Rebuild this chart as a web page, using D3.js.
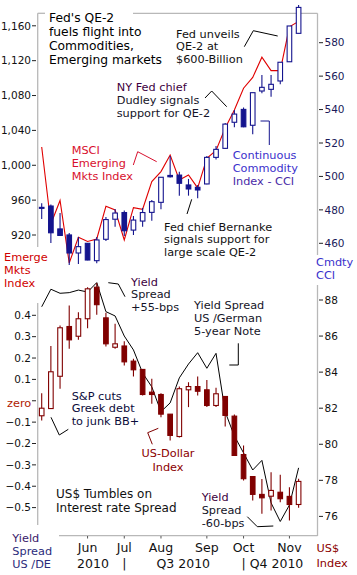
<!DOCTYPE html>
<html><head><meta charset="utf-8">
<script src="https://cdn.jsdelivr.net/npm/d3@7"></script>
<style>
body{margin:0;background:#fff}
svg{display:block}
text{font-family:"DejaVu Sans",Verdana,sans-serif}
</style>
</head><body>
<svg id="chart" width="357" height="575"></svg>
<script>
// ---------- DATA ----------
const weeks = ["2010-04-26","2010-05-03","2010-05-10","2010-05-17","2010-05-24","2010-05-31","2010-06-07","2010-06-14","2010-06-21","2010-06-28","2010-07-05","2010-07-12","2010-07-19","2010-07-26","2010-08-02","2010-08-09","2010-08-16","2010-08-23","2010-08-30","2010-09-06","2010-09-13","2010-09-20","2010-09-27","2010-10-04","2010-10-11","2010-10-18","2010-10-25","2010-11-01","2010-11-08"];

// Continuous Commodity Index (weekly OHLC)
const cciOpen  = [481.5,482.3,468.6,465.0,454.2,460.0,449.6,462.4,474.4,478.4,467.9,473.3,478.5,484.5,500.6,500.8,494.9,493.5,495.5,511.4,516.8,532.4,540.1,530.6,551.1,552.1,557.1,568.6,585.6];
const cciHigh  = [483.9,483.2,478.1,466.2,463.8,460.2,463.8,475.7,480.5,479.6,476.3,481.1,485.9,499.5,512.2,502.8,498.5,494.9,512.2,518.2,532.0,539.7,541.3,550.1,560.7,560.7,568.3,590.0,602.5];
const cciLow   = [474.5,460.2,464.5,447.0,447.6,449.8,448.1,461.4,469.9,464.4,465.0,469.9,473.5,480.3,499.4,488.5,488.5,486.9,495.3,510.2,516.4,529.4,529.4,525.2,549.7,547.7,555.1,568.6,585.6];
const cciClose = [481.3,466.3,464.7,454.2,458.0,450.0,462.0,474.2,478.1,467.5,473.9,478.4,484.9,499.5,499.8,495.9,492.5,491.9,511.4,516.2,531.3,537.3,529.7,550.1,553.3,555.1,568.3,590.0,601.1];

// MSCI Emerging Markets Index (weekly close)
const msci = [1021.0,932.6,959.6,887.9,917.4,912.5,915.4,953.0,948.7,914.3,951.3,949.5,981.2,992.7,1011.8,983.1,988.9,974.0,1008.1,1017.0,1042.8,1063.5,1088.4,1100.8,1124.0,1108.6,1108.6,1158.8,1165.1];

// US Dollar Index (weekly OHLC)
const dxyOpen  = [81.58,81.98,83.77,86.53,85.99,86.96,88.71,87.01,85.38,85.45,84.61,84.15,82.89,82.76,81.67,80.43,83.02,83.20,83.02,82.15,82.65,81.56,79.43,78.21,77.22,77.12,77.34,77.11,76.66];
const dxyHigh  = [82.83,85.45,86.58,87.69,87.32,88.71,88.94,87.29,86.68,85.71,84.74,84.18,83.63,82.83,81.67,83.20,83.44,83.76,83.57,83.13,82.65,81.65,79.93,78.21,78.07,78.45,78.31,77.62,78.09];
const dxyLow   = [81.32,81.98,83.08,85.29,85.79,86.43,87.18,85.42,85.29,84.37,83.76,82.70,82.24,81.50,80.21,80.38,82.06,82.70,82.06,82.06,80.99,79.38,77.99,76.88,76.15,76.33,76.79,75.77,76.48];
const dxyClose = [82.00,84.02,86.46,85.79,86.96,88.62,87.74,85.57,85.57,84.57,84.13,82.76,82.76,81.67,80.49,83.08,83.20,82.94,82.15,82.80,81.60,79.38,78.09,77.22,77.03,77.44,76.98,76.66,77.94];

// Yield spread US / German 5-year note (percentage points)
const spread = [0.440,0.522,0.503,0.506,0.518,0.509,0.553,0.417,0.397,0.303,0.238,0.130,0.065,-0.051,-0.010,0.107,0.172,0.225,0.152,0.222,-0.052,-0.165,-0.244,-0.324,-0.279,-0.478,-0.565,-0.488,-0.314];

// Tick labels
const msciTicks = [920,960,1000,1040,1080,1120,1160];
const cciTicks = [460,480,500,520,540,560,580];
const spreadTicks = [-0.5,-0.4,-0.3,-0.2,-0.1,0,0.1,0.2,0.3,0.4];
const dxyTicks = [76,78,80,82,84,86,88];
const monthTicks = [["Jun","2010-06-01"],["Jul","2010-07-01"],["Aug","2010-08-01"],["Sep","2010-09-01"],["Oct","2010-10-01"],["Nov","2010-11-01"]];

// ---------- CHART ----------
const svg = d3.select("#chart");
const AX = "#b8b8b8";
const BLUE = "#14148e", MAROON = "#800000";

const x = d3.scalePoint().domain(weeks).range([41.7, 298.6]);
const yCCI = d3.scaleLinear().domain([460,580]).range([243.3,42.7]);
const yMSCI = d3.scaleLinear().domain([920,1160]).range([235,25.8]);
const yDXY = d3.scaleLinear().domain([76,88]).range([516.4,300.0]);
const ySpr = d3.scaleLinear().domain([-0.5,0.4]).range([507.6,315.3]);

const parse = d3.timeParse("%Y-%m-%d");
function weekOf(dateStr){
  const d = parse(dateStr);
  for (const w of weeks){ const s = parse(w); if (d >= s && d < d3.timeDay.offset(s,7)) return w; }
  return weeks[0];
}

// frames
const g = svg.append("g");
function line(x1,y1,x2,y2,c,w){ g.append("line").attr("x1",x1).attr("y1",y1).attr("x2",x2).attr("y2",y2).attr("stroke",c).attr("stroke-width",w||1); }
line(37.7,13.3,37.7,247,AX,1.3);
line(37.7,13.3,45,13.3,AX,1.3);
line(133,13.3,317.5,13.3,AX,1.3);
line(317.5,13.3,317.5,255,AX,1.3);
line(37.7,303,37.7,525,AX,1.3);
line(317.5,285,317.5,536,AX,1.3);
line(59,535.7,317.5,535.7,AX,1.3);

// axis ticks & labels
function leftTicks(ticks, scale, fmt){
  ticks.forEach(t=>{
    const yy = scale(t);
    line(32,yy,36,yy,"#222",1);
    const lab = fmt(t);
    if (lab) g.append("text").attr("x",31).attr("y",yy).attr("dy","0.36em").attr("text-anchor","end")
      .attr("font-size",10.5).attr("fill","#111").text(lab);
  });
}
function rightTicks(ticks, scale, color){
  ticks.forEach(t=>{
    const yy = scale(t);
    line(319,yy,323,yy,"#222",1);
    g.append("text").attr("x",324.5).attr("y",yy).attr("dy","0.36em")
      .attr("font-size",10.5).attr("fill",color).text(t);
  });
}
leftTicks(msciTicks, yMSCI, d3.format(","));
rightTicks(cciTicks, yCCI, "#1a1a5a");
leftTicks(spreadTicks, ySpr, t => t===0 ? "" : d3.format(".1f")(t));
rightTicks(dxyTicks, yDXY, "#111");

// x axis month ticks
monthTicks.forEach(([lab,ds])=>{
  const xx = x(weekOf(ds));
  line(xx,536,xx,538.5,"#555",1);
  g.append("text").attr("x",xx).attr("y",547.5).attr("dy","0.36em").attr("text-anchor","middle")
    .attr("font-size",12.5).attr("fill","#111").text(lab);
});
const mx = Object.fromEntries(monthTicks.map(([l,d])=>[l,x(weekOf(d))]));
const qrow = [["2010",mx.Jun-10.5,"start"],["|",mx.Jul,"middle"],["Q3 2010",mx.Aug-4.5,"start"],["| Q4 2010",mx.Oct-2,"start"]];
qrow.forEach(([t,xx,a])=>{
  g.append("text").attr("x",xx).attr("y",563.5).attr("dy","0.36em").attr("text-anchor",a)
   .attr("font-size",12.5).attr("fill","#111").text(t);
});

// candles
function candles(O,H,L,C,ys,color){
  const cg = svg.append("g");
  weeks.forEach((w,i)=>{
    const xx = x(w);
    cg.append("line").attr("x1",xx).attr("x2",xx).attr("y1",ys(H[i])).attr("y2",ys(L[i]))
      .attr("stroke",color).attr("stroke-width",1.1);
    const up = C[i] > O[i];
    const top = ys(Math.max(O[i],C[i])), bot = ys(Math.min(O[i],C[i]));
    cg.append("rect").attr("x",xx-2.3).attr("y",top).attr("width",4.6).attr("height",Math.max(1,bot-top))
      .attr("fill", up ? "#fff" : color).attr("stroke",color).attr("stroke-width",1.1);
  });
}

// MSCI red line
svg.append("path").datum(msci)
  .attr("d", d3.line().x((d,i)=>x(weeks[i])).y(d=>yMSCI(d)))
  .attr("fill","none").attr("stroke","#e00000").attr("stroke-width",1.1);
candles(cciOpen,cciHigh,cciLow,cciClose,yCCI,BLUE);

// spread black line
svg.append("path").datum(spread)
  .attr("d", d3.line().x((d,i)=>x(weeks[i])).y(d=>ySpr(d)))
  .attr("fill","none").attr("stroke","#000").attr("stroke-width",1);
candles(dxyOpen,dxyHigh,dxyLow,dxyClose,yDXY,MAROON);

// annotations
const notes = [
  {l:["Fed's QE-2","fuels flight into","Commodities,","Emerging markets"],x:49,y:18,lh:13.9,fs:12.3,c:["#000"]},
  {l:["Fed unveils","QE-2 at","$600-Billion"],x:176,y:33.5,lh:12.9,c:["#111"]},
  {l:["NY Fed chief","Dudley signals","support for QE-2"],x:116.7,y:87.3,lh:13,c:["#3d0040","#141428","#141428"]},
  {l:["MSCI","Emerging","Mkts Index"],x:71.7,y:150,lh:12.9,c:["#d8102e"]},
  {l:["Continuous","Commodity","Index - CCI"],x:232.7,y:155,lh:12.9,c:["#3a30cc","#3a30cc","#4a2aa8"]},
  {l:["Fed chief Bernanke","signals support for","large scale QE-2"],x:164,y:226.7,lh:12.5,c:["#111"]},
  {l:["Emerge","Mkts","Index"],x:4,y:256.7,lh:13,c:["#d00000"]},
  {l:["Cmdty","CCI"],x:316,y:262.3,lh:12.5,c:["#3a30cc"]},
  {l:["Yield","Spread","+55-bps"],x:131,y:281.7,lh:12.5,c:["#3d0040","#141428","#141428"]},
  {l:["Yield Spread","US /German","5-year Note"],x:194,y:305,lh:13,c:["#141428"]},
  {l:["S&P cuts","Greek debt","to junk BB+"],x:71.7,y:395.7,lh:12.5,c:["#0b0b3b"]},
  {l:["US-Dollar","Index"],x:168,y:453.3,lh:14,c:["#8b0000"],a:"middle"},
  {l:["Yield","Spread","-60-bps"],x:201.7,y:496.7,lh:13,c:["#3d0040","#141428","#141428"]},
  {l:["US$ Tumbles on","Interest rate Spread"],x:56,y:493.3,lh:14.4,fs:12,c:["#111"]},
  {l:["zero"],x:7,y:402.7,lh:13,c:["#b02000"]},
  {l:["Yield","Spread","US /DE"],x:12.3,y:537.7,lh:13.3,c:["#3a1a6a","#2b2b7b","#2b2b7b"]},
  {l:["US$","Index"],x:316.5,y:548.3,lh:15,c:["#8b0000"]}
];
const ng = svg.append("g");
notes.forEach(n=>{
  n.l.forEach((t,i)=>{
    ng.append("text").attr("x",n.x).attr("y",n.y+i*n.lh).attr("dy","0.36em")
      .attr("text-anchor",n.a||"start").attr("font-size",n.fs||11.3)
      .attr("fill",n.c[Math.min(i,n.c.length-1)]).text(t);
  });
});

// callout leader lines
const leaders = [
  [[244.3,46.7],[253.3,30.7],[277.7,36]],
  [[205,98],[211.7,91],[226.7,106.7]],
  [[133.3,165],[137.7,151.7],[156.7,161.7]],
  [[260.5,121],[269.3,121],[269.3,145]],
  [[187,214],[191.7,199.3]],
  [[108.3,282.7],[118.3,284],[125,296.7]],
  [[238.3,343.3],[238.3,365],[229.3,365]],
  [[51,417.3],[59.3,435],[68.3,429.3]],
  [[152.3,444.3],[147.7,432.7],[158.3,428.3]],
  [[247.3,516.7],[257.3,526.7],[273.3,526]]
];
leaders.forEach((pts,i)=>{
  svg.append("path").attr("d",d3.line()(pts)).attr("fill","none")
    .attr("stroke", i===3 ? BLUE : (i===2 ? "#d8102e" : (i===8 ? MAROON : "#000"))).attr("stroke-width",1);
});
</script>
</body></html>
